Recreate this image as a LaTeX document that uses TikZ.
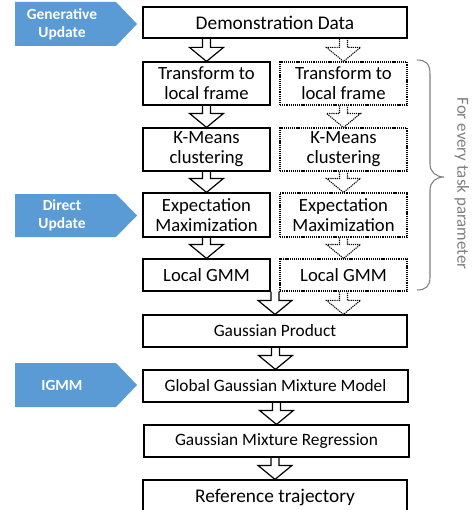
\documentclass[tikz,border=0pt]{standalone}
\usepackage{fontspec}
\setmainfont{Carlito}
\usetikzlibrary{calc}
\definecolor{tagblue}{HTML}{5B9BD5}
\definecolor{bracegray}{HTML}{7F7F7F}
\tikzset{
  stage/.style={draw=black, line width=0.9pt, fill=white, inner sep=0pt, align=center},
  ghost/.style={stage, line width=0.8pt, dash pattern=on 0.9pt off 0.7pt},
  arr/.style={draw=black, line width=0.9pt, line join=miter},
  ghostarr/.style={arr, line width=0.8pt, dash pattern=on 0.9pt off 0.7pt},
  tagtext/.style={text=white, font=\fontsize{11.6}{13.5}\selectfont\bfseries, align=center},
}
% open block arrow from the bottom of #2 down to the top of #3
\newcommand\blockarrow[3][arr]{%
  \draw[#1] ($(#2.south -| #3.north)+(-4,0)$) |- ($(#3.north)+(-17,-14)$)
    -- (#3.north) -- ($(#3.north)+(17,-14)$) -| ($(#2.south -| #3.north)+(4,0)$);}
% pentagon tag: left x, top y, right-of-body x, tip x, bottom y
\newcommand\tagshape[5]{%
  \fill[tagblue] (#1,#2) -- (#3,#2) -- (#4,{(#2+#5)/2}) -- (#3,#5) -- (#1,#5) -- cycle;}
\begin{document}
\begin{tikzpicture}[x=0.75pt,y=-0.75pt]
\useasboundingbox (0,0) rectangle (474,510);

% process boxes
\node[stage, minimum width=264*0.75pt, minimum height=31*0.75pt,
  font=\fontsize{14.5}{16}\selectfont] (demo) at (275,22.5) {Demonstration Data};

\node[stage, minimum width=127*0.75pt, minimum height=43*0.75pt,
  font=\fontsize{14}{15}\selectfont] (tfL) at (206.5,83.5) {Transform to\\local frame};
\node[ghost, minimum width=127*0.75pt, minimum height=43*0.75pt,
  font=\fontsize{14}{15}\selectfont] (tfR) at (343.5,83.5) {Transform to\\local frame};

\node[stage, minimum width=127*0.75pt, minimum height=43*0.75pt,
  font=\fontsize{14}{15}\selectfont] (kmL) at (206.5,149.5) {K-Means\\clustering};
\node[ghost, minimum width=127*0.75pt, minimum height=43*0.75pt,
  font=\fontsize{14}{15}\selectfont] (kmR) at (343.5,149.5) {K-Means\\clustering};

\node[stage, minimum width=127*0.75pt, minimum height=44*0.75pt,
  font=\fontsize{14}{15}\selectfont] (emL) at (206.5,215) {Expectation\\Maximization};
\node[ghost, minimum width=127*0.75pt, minimum height=44*0.75pt,
  font=\fontsize{14}{15}\selectfont] (emR) at (343.5,215) {Expectation\\Maximization};

\node[stage, minimum width=127*0.75pt, minimum height=32*0.75pt,
  font=\fontsize{14}{15}\selectfont] (gmL) at (206.5,275) {Local GMM};
\node[ghost, minimum width=127*0.75pt, minimum height=32*0.75pt,
  font=\fontsize{14}{15}\selectfont] (gmR) at (343.5,275) {Local GMM};

\node[stage, minimum width=264*0.75pt, minimum height=32*0.75pt,
  font=\fontsize{13}{15}\selectfont] (prod) at (275,331) {Gaussian Product};
\node[stage, minimum width=265*0.75pt, minimum height=32*0.75pt,
  font=\fontsize{13}{15}\selectfont] (ggmm) at (275.5,386) {Global Gaussian Mixture Model};
\node[stage, minimum width=265*0.75pt, minimum height=32*0.75pt,
  font=\fontsize{13}{15}\selectfont] (gmr) at (276.5,441) {Gaussian Mixture Regression};
\node[stage, minimum width=264*0.75pt, minimum height=34*0.75pt,
  font=\fontsize{14.5}{16}\selectfont] (ref) at (275,497) {Reference trajectory};

% block arrows
\blockarrow{demo}{tfL}
\blockarrow[ghostarr]{demo}{tfR}
\blockarrow{tfL}{kmL}
\blockarrow[ghostarr]{tfR}{kmR}
\blockarrow{kmL}{emL}
\blockarrow[ghostarr]{kmR}{emR}
\blockarrow{emL}{gmL}
\blockarrow[ghostarr]{emR}{gmR}
\blockarrow{gmL}{prod}
\draw[ghostarr] ($(gmR.south)+(-4,0)$) |- ($(gmR.south |- prod.north)+(-17,-14)$)
  -- (gmR.south |- prod.north) -- ($(gmR.south |- prod.north)+(17,-14)$)
  -| ($(gmR.south)+(4,0)$);
\blockarrow{prod}{ggmm}
\blockarrow{ggmm}{gmr}
\blockarrow{gmr}{ref}

% update tags
\tagshape{15}{2}{116}{137}{46}
\node[tagtext] (tagGen) at (62,24) {Generative\\Update};
\tagshape{15}{194}{116}{137}{237}
\node[tagtext] (tagDir) at (62,215.5) {Direct\\Update};
\tagshape{15}{363}{116}{137}{407}
\node[tagtext] (tagIG) at (62,385) {IGMM};

% brace over the per-parameter column
\draw[bracegray, line width=0.8pt]
  (417,60) .. controls (426,60) and (430,64) .. (430,74)
  -- (430,164) .. controls (430,172) and (436,177) .. (444,177)
  .. controls (436,177) and (430,182) .. (430,190)
  -- (430,277) .. controls (430,286) and (426,290) .. (417,290);
\node[text=bracegray, rotate=-90, font=\fontsize{12.7}{14}\selectfont] (every) at (462,183.5)
  {For every task parameter};
\end{tikzpicture}
\end{document}
